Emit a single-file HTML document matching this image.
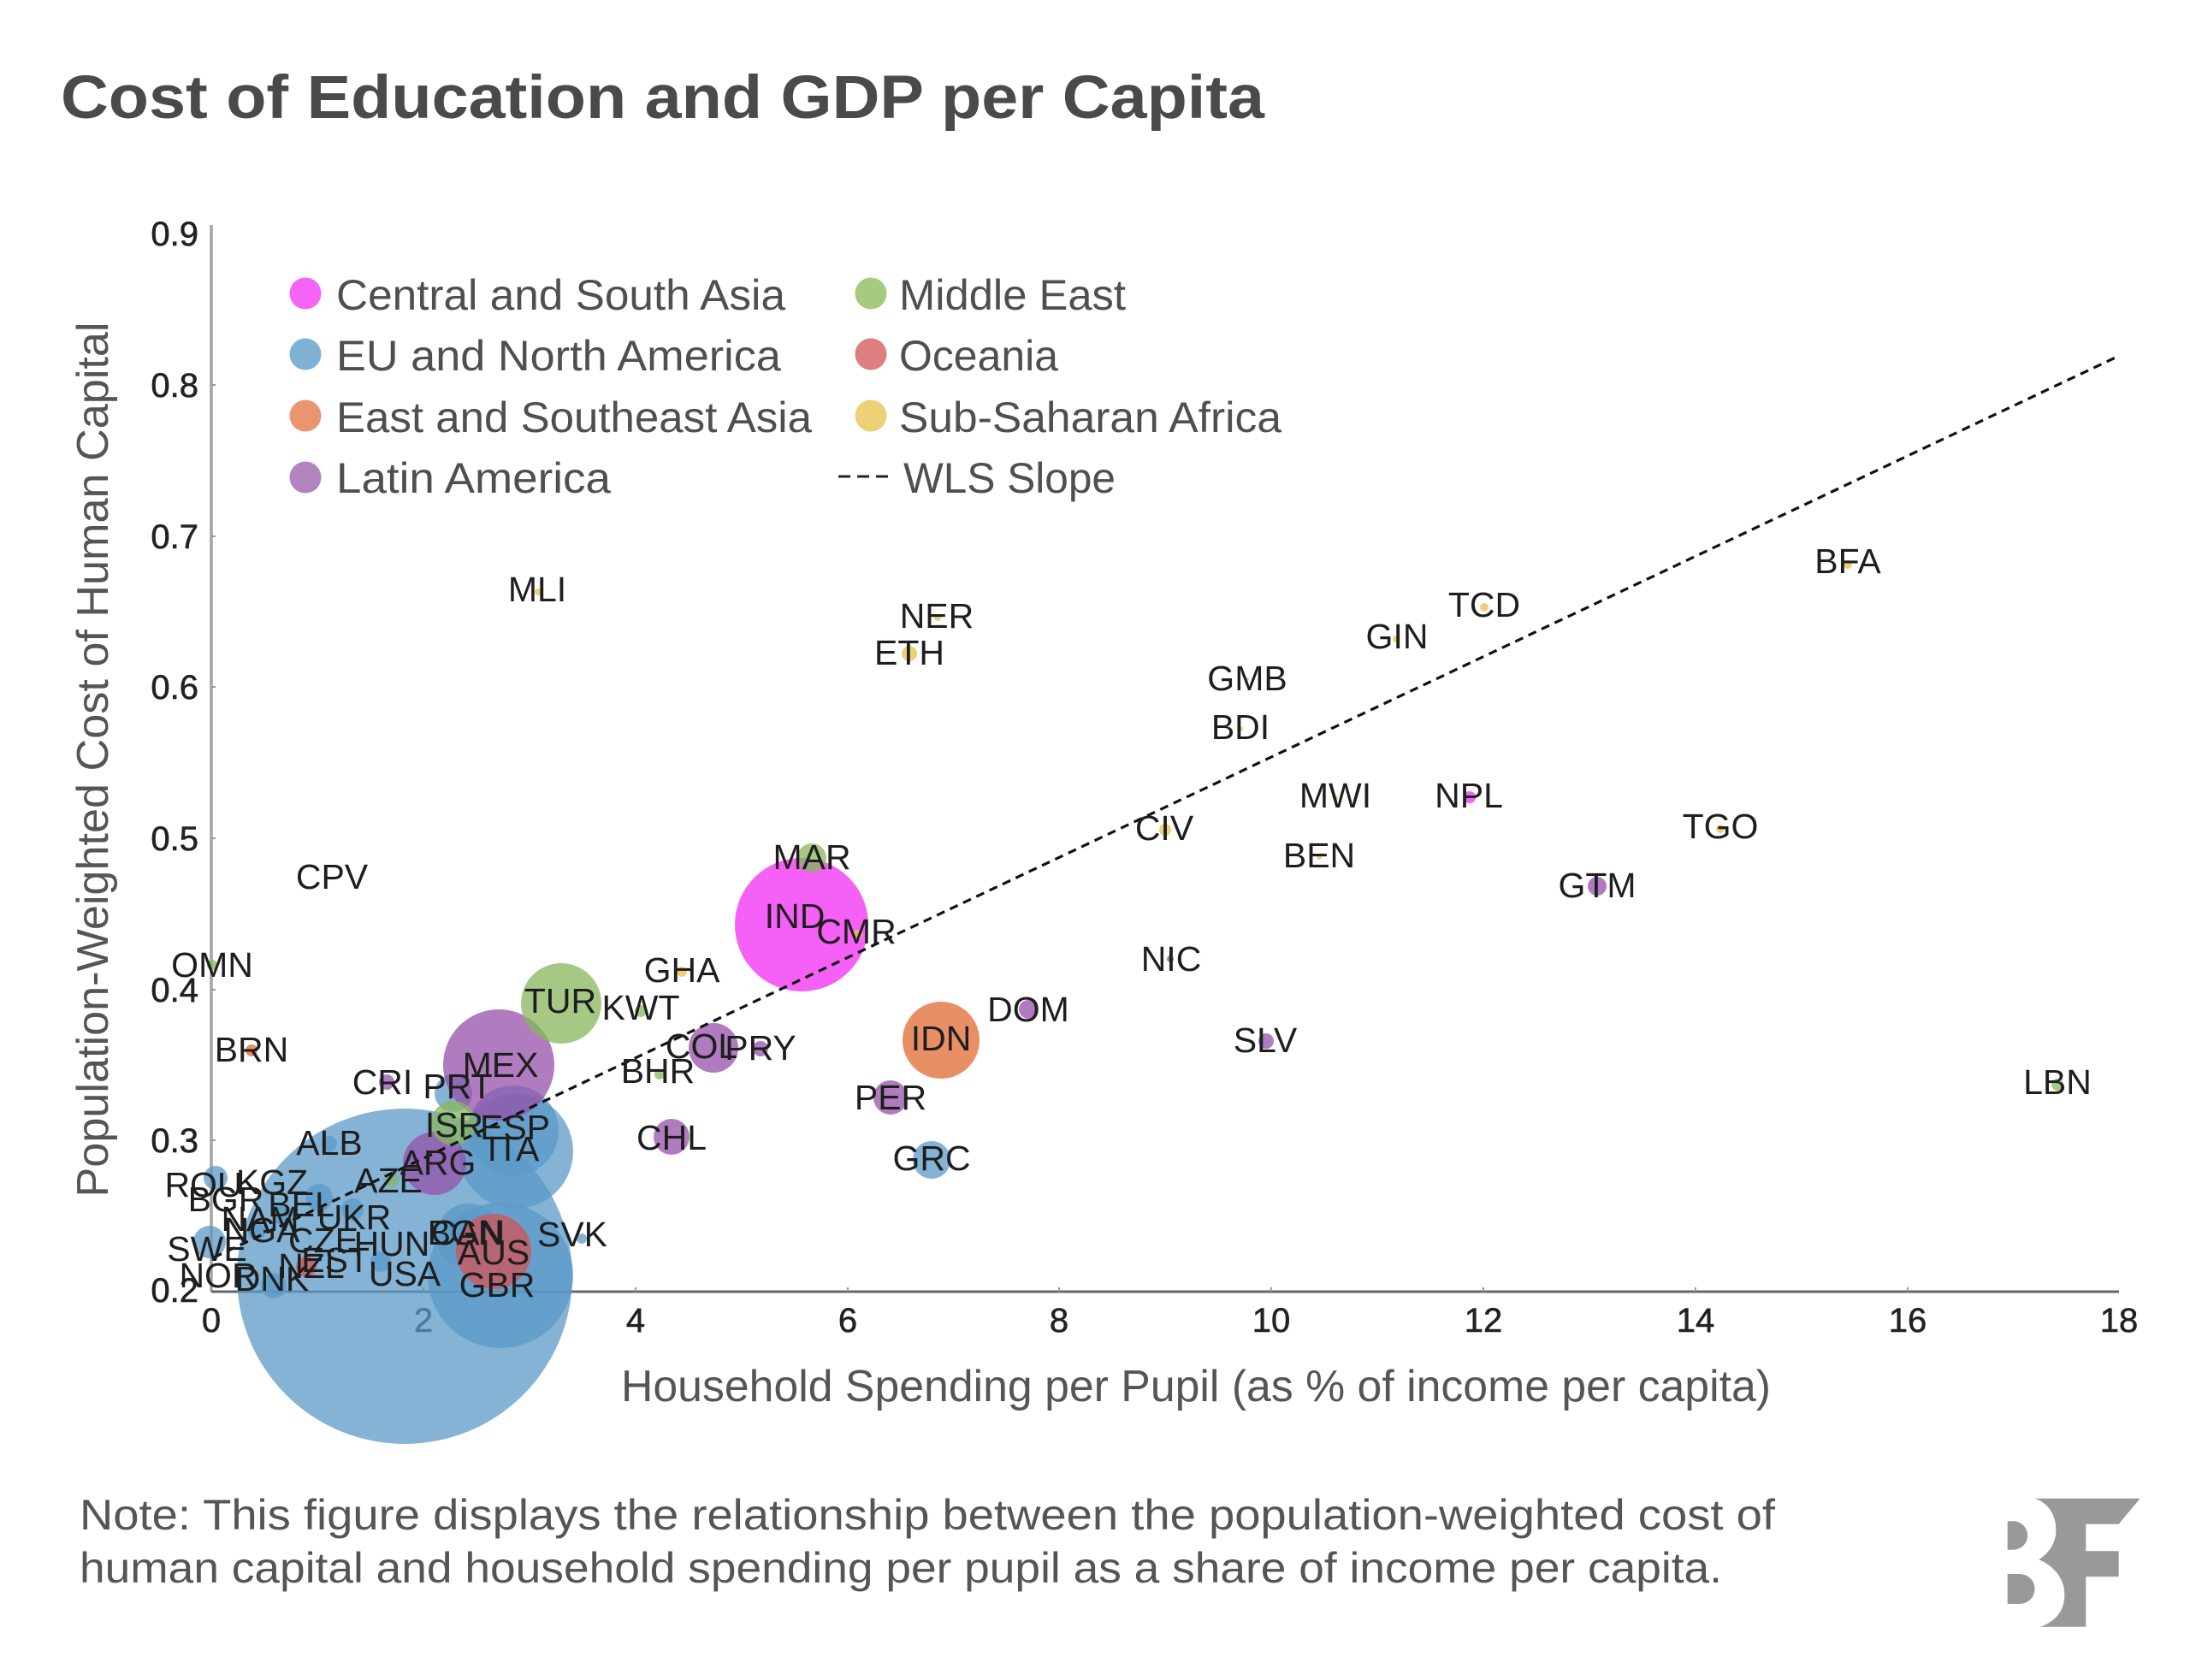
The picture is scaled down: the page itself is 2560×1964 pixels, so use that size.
<!DOCTYPE html>
<html>
<head>
<meta charset="utf-8">
<style>
  html, body { margin:0; padding:0; background:#ffffff; }
  svg { display:block; }
  .lbl { font-family:"Liberation Sans", Arial, sans-serif; font-size:41px; fill:#1e1e1e; text-anchor:middle; }
  .tick { font-family:"Liberation Sans", Arial, sans-serif; font-size:40px; fill:#222; stroke:#222; stroke-width:0.6; }
  .leg { font-family:"Liberation Sans", Arial, sans-serif; font-size:50px; fill:#4f4f4f; }
  .b { fill:#5b9ac8; fill-opacity:0.75; }
  .m { fill:#f22cf3; fill-opacity:0.75; }
  .o { fill:#e26a33; fill-opacity:0.75; }
  .p { fill:#9650aa; fill-opacity:0.75; }
  .g { fill:#87b75c; fill-opacity:0.75; }
  .r { fill:#d35356; fill-opacity:0.75; }
  .y { fill:#e8c24a; fill-opacity:0.75; }
</style>
</head>
<body>
<svg width="2560" height="1964" viewBox="0 0 2560 1964" xmlns="http://www.w3.org/2000/svg">
  <rect x="0" y="0" width="2560" height="1964" fill="#ffffff"/>

  <!-- Title -->
  <text x="71" y="138" font-family="Liberation Sans, Arial, sans-serif" font-weight="bold" font-size="71" fill="#4a4a4a" textLength="1407" lengthAdjust="spacingAndGlyphs">Cost of Education and GDP per Capita</text>

  <!-- Axes -->
  <line x1="247" y1="263" x2="247" y2="1510" stroke="#a4a4a4" stroke-width="3.5"/>
  <line x1="247" y1="1510" x2="2477" y2="1510" stroke="#666" stroke-width="3"/>
  <g stroke="#999" stroke-width="2">
    <line x1="495" y1="1510" x2="495" y2="1505"/>
    <line x1="743" y1="1510" x2="743" y2="1505"/>
    <line x1="991" y1="1510" x2="991" y2="1505"/>
    <line x1="1238" y1="1510" x2="1238" y2="1505"/>
    <line x1="1486" y1="1510" x2="1486" y2="1505"/>
    <line x1="1734" y1="1510" x2="1734" y2="1505"/>
    <line x1="1982" y1="1510" x2="1982" y2="1505"/>
    <line x1="2230" y1="1510" x2="2230" y2="1505"/>
    <line x1="247" y1="1333" x2="252" y2="1333"/>
    <line x1="247" y1="1157" x2="252" y2="1157"/>
    <line x1="247" y1="980" x2="252" y2="980"/>
    <line x1="247" y1="803" x2="252" y2="803"/>
    <line x1="247" y1="627" x2="252" y2="627"/>
    <line x1="247" y1="450" x2="252" y2="450"/>
  </g>

  <!-- Y tick labels -->
  <g class="tick" text-anchor="end">
    <text x="232" y="1522">0.2</text>
    <text x="232" y="1347">0.3</text>
    <text x="232" y="1171">0.4</text>
    <text x="232" y="994">0.5</text>
    <text x="232" y="817">0.6</text>
    <text x="232" y="641">0.7</text>
    <text x="232" y="464">0.8</text>
    <text x="232" y="287">0.9</text>
  </g>
  <!-- X tick labels -->
  <g class="tick" text-anchor="middle">
    <text x="247" y="1557">0</text>
    <text x="495" y="1557">2</text>
    <text x="743" y="1557">4</text>
    <text x="991" y="1557">6</text>
    <text x="1238" y="1557">8</text>
    <text x="1486" y="1557">10</text>
    <text x="1734" y="1557">12</text>
    <text x="1982" y="1557">14</text>
    <text x="2230" y="1557">16</text>
    <text x="2477" y="1557">18</text>
  </g>

  <!-- Axis titles -->
  <text x="726" y="1638" font-family="Liberation Sans, Arial, sans-serif" font-size="52" fill="#555" textLength="1344" lengthAdjust="spacingAndGlyphs">Household Spending per Pupil (as % of income per capita)</text>
  <text transform="translate(126,888) rotate(-90)" x="0" y="0" text-anchor="middle" font-family="Liberation Sans, Arial, sans-serif" font-size="52" fill="#555" textLength="1023" lengthAdjust="spacingAndGlyphs">Population-Weighted Cost of Human Capital</text>

  <!-- Bubbles: blue -->
  <circle class="b" cx="473" cy="1492" r="196"/>
  <circle class="b" cx="585" cy="1491" r="85"/>
  <circle class="b" cx="603" cy="1346" r="67"/>
  <circle class="b" cx="600" cy="1322" r="53"/>
  <circle class="b" cx="548" cy="1445" r="38"/>
  <circle class="b" cx="530" cy="1278" r="22"/>
  <circle class="b" cx="252" cy="1377" r="14"/>
  <circle class="b" cx="373" cy="1400" r="16"/>
  <circle class="b" cx="412" cy="1414" r="13"/>
  <circle class="b" cx="330" cy="1420" r="12"/>
  <circle class="b" cx="300" cy="1440" r="10"/>
  <circle class="b" cx="245" cy="1452" r="19"/>
  <circle class="b" cx="320" cy="1503" r="15"/>
  <circle class="b" cx="445" cy="1475" r="12"/>
  <circle class="b" cx="385" cy="1337" r="9"/>
  <circle class="b" cx="680" cy="1448" r="6"/>
  <circle class="b" cx="1089" cy="1356" r="22"/>
  <!-- magenta -->
  <circle class="m" cx="937" cy="1081" r="78"/>
  <circle class="m" cx="1718" cy="932" r="7"/>
  <!-- orange -->
  <circle class="o" cx="1100" cy="1216" r="45"/>
  <circle class="o" cx="294" cy="1228" r="7"/>
  <!-- purple -->
  <circle class="p" cx="583" cy="1245" r="65"/>
  <circle class="p" cx="508" cy="1360" r="37"/>
  <circle class="p" cx="834" cy="1225" r="29"/>
  <circle class="p" cx="785" cy="1329" r="21"/>
  <circle class="p" cx="1041" cy="1283" r="20"/>
  <circle class="p" cx="1202" cy="1180" r="11"/>
  <circle class="p" cx="889" cy="1226" r="9"/>
  <circle class="p" cx="1867" cy="1036" r="11"/>
  <circle class="p" cx="1480" cy="1217" r="9"/>
  <circle class="p" cx="1368" cy="1121" r="4"/>
  <circle class="p" cx="452" cy="1265" r="9"/>
  <!-- green -->
  <circle class="g" cx="656" cy="1173" r="47"/>
  <circle class="g" cx="530" cy="1313" r="26"/>
  <circle class="g" cx="749" cy="1182" r="7"/>
  <circle class="g" cx="771" cy="1256" r="6"/>
  <circle class="g" cx="949" cy="1003" r="17"/>
  <circle class="g" cx="248" cy="1128" r="6"/>
  <circle class="g" cx="458" cy="1380" r="8"/>
  <circle class="g" cx="2405" cy="1268" r="7"/>
  <!-- red -->
  <circle class="r" cx="577" cy="1463" r="44"/>
  <circle class="r" cx="358" cy="1481" r="12"/>
  <!-- yellow -->
  <circle class="y" cx="629" cy="692" r="4"/>
  <circle class="y" cx="1096" cy="722" r="4"/>
  <circle class="y" cx="1063" cy="764" r="9"/>
  <circle class="y" cx="797" cy="1136" r="6"/>
  <circle class="y" cx="1002" cy="1093" r="6"/>
  <circle class="y" cx="1362" cy="970" r="7"/>
  <circle class="y" cx="1735" cy="710" r="5"/>
  <circle class="y" cx="1632" cy="747" r="4"/>
  <circle class="y" cx="2160" cy="660" r="5"/>
  <circle class="y" cx="2011" cy="969" r="5"/>
  <circle class="y" cx="1542" cy="1002" r="3"/>
  <circle class="y" cx="1561" cy="933" r="3"/>
  <circle class="y" cx="1450" cy="852" r="3"/>
  <circle class="y" cx="1458" cy="794" r="2"/>
  <circle class="y" cx="388" cy="1027" r="2"/>

  <!-- WLS slope line -->
  <line x1="250" y1="1470" x2="2477" y2="416" stroke="#111" stroke-width="3.2" stroke-dasharray="10 7"/>

  <!-- Country labels -->
  <g class="lbl">
    <text x="628" y="703">MLI</text>
    <text x="1095" y="734">NER</text>
    <text x="1063" y="777">ETH</text>
    <text x="2160" y="670">BFA</text>
    <text x="1735" y="721">TCD</text>
    <text x="1633" y="758">GIN</text>
    <text x="1458" y="807">GMB</text>
    <text x="1450" y="864">BDI</text>
    <text x="1561" y="944">MWI</text>
    <text x="1717" y="944">NPL</text>
    <text x="1361" y="982">CIV</text>
    <text x="1542" y="1014">BEN</text>
    <text x="2011" y="980">TGO</text>
    <text x="1867" y="1049">GTM</text>
    <text x="388" y="1039">CPV</text>
    <text x="949" y="1016">MAR</text>
    <text x="929" y="1085">IND</text>
    <text x="1001" y="1103">CMR</text>
    <text x="1369" y="1135">NIC</text>
    <text x="248" y="1142">OMN</text>
    <text x="797" y="1148">GHA</text>
    <text x="655" y="1184">TUR</text>
    <text x="749" y="1192">KWT</text>
    <text x="1202" y="1194">DOM</text>
    <text x="1100" y="1228">IDN</text>
    <text x="1479" y="1230">SLV</text>
    <text x="820" y="1237">COL</text>
    <text x="889" y="1239">PRY</text>
    <text x="294" y="1241">BRN</text>
    <text x="585" y="1259">MEX</text>
    <text x="769" y="1266">BHR</text>
    <text x="447" y="1279">CRI</text>
    <text x="535" y="1284">PRT</text>
    <text x="2405" y="1279">LBN</text>
    <text x="1041" y="1297">PER</text>
    <text x="531" y="1329">ISR</text>
    <text x="602" y="1332">ESP</text>
    <text x="600" y="1357">ITA</text>
    <text x="785" y="1344">CHL</text>
    <text x="385" y="1350">ALB</text>
    <text x="1089" y="1368">GRC</text>
    <text x="512" y="1373">ARG</text>
    <text x="454" y="1394">AZE</text>
    <text x="238" y="1399">ROU</text>
    <text x="318" y="1396">KGZ</text>
    <text x="264" y="1416">BGR</text>
    <text x="352" y="1422">BEL</text>
    <text x="304" y="1439">NAM</text>
    <text x="414" y="1437">UKR</text>
    <text x="306" y="1452">NGA</text>
    <text x="378" y="1464">CZE</text>
    <text x="458" y="1468">HUN</text>
    <text x="242" y="1474">SWE</text>
    <text x="364" y="1494">NZL</text>
    <text x="392" y="1487">EST</text>
    <text x="255" y="1505">NOR</text>
    <text x="318" y="1509">DNK</text>
    <text x="473" y="1503">USA</text>
    <text x="544" y="1455">BGN</text>
    <text x="547" y="1455">CAN</text>
    <text x="577" y="1478">AUS</text>
    <text x="581" y="1516">GBR</text>
    <text x="669" y="1457">SVK</text>
  </g>

  <!-- Legend -->
  <circle cx="357" cy="343" r="18.5" fill="#f564f6"/>
  <circle cx="357" cy="414" r="18.5" fill="#80b2d6"/>
  <circle cx="357" cy="486" r="18.5" fill="#ea9570"/>
  <circle cx="357" cy="558" r="18.5" fill="#b384bf"/>
  <circle cx="1018" cy="343" r="18.5" fill="#a6cb80"/>
  <circle cx="1018" cy="414" r="18.5" fill="#de7e80"/>
  <circle cx="1018" cy="486" r="18.5" fill="#eed177"/>
  <g class="leg">
    <text x="393" y="362" textLength="525" lengthAdjust="spacingAndGlyphs">Central and South Asia</text>
    <text x="393" y="433" textLength="520" lengthAdjust="spacingAndGlyphs">EU and North America</text>
    <text x="393" y="505" textLength="556" lengthAdjust="spacingAndGlyphs">East and Southeast Asia</text>
    <text x="393" y="576" textLength="321" lengthAdjust="spacingAndGlyphs">Latin America</text>
    <text x="1051" y="362" textLength="265" lengthAdjust="spacingAndGlyphs">Middle East</text>
    <text x="1051" y="433" textLength="186" lengthAdjust="spacingAndGlyphs">Oceania</text>
    <text x="1051" y="505" textLength="447" lengthAdjust="spacingAndGlyphs">Sub-Saharan Africa</text>
    <text x="1056" y="576" textLength="248" lengthAdjust="spacingAndGlyphs">WLS Slope</text>
  </g>
  <line x1="980" y1="557" x2="1040" y2="557" stroke="#222" stroke-width="3" stroke-dasharray="14 8"/>

  <!-- Note -->
  <text x="93" y="1788" font-family="Liberation Sans, Arial, sans-serif" font-size="50" fill="#555" textLength="1982" lengthAdjust="spacingAndGlyphs">Note: This figure displays the relationship between the population-weighted cost of</text>
  <text x="93" y="1850" font-family="Liberation Sans, Arial, sans-serif" font-size="50" fill="#555" textLength="1920" lengthAdjust="spacingAndGlyphs">human capital and household spending per pupil as a share of income per capita.</text>

  <!-- BF logo -->
  <path d="M2378.3,1751.7 L2501.7,1751.7 L2476.7,1781.7 L2438.3,1781.7 L2438.3,1813.3 L2476.7,1813.3 L2476.7,1843.3 L2438.3,1843.3 L2438.3,1901.7 L2385,1901.7 C2405,1895 2414,1880 2413.3,1863 C2413,1845 2400,1830 2383.3,1823.3 C2396,1815 2404,1802 2403.3,1788 C2403,1768 2392,1756 2378.3,1751.7 Z" fill="#999"/>
  <path d="M2346.7,1778.3 L2353.5,1778.3 A16.7,16.7 0 0 1 2353.5,1811.7 L2346.7,1811.7 Z" fill="#999"/>
  <path d="M2346.7,1840 L2361,1840 A17.5,17.5 0 0 1 2361,1875 L2346.7,1875 Z" fill="#999"/>
</svg>
</body>
</html>
